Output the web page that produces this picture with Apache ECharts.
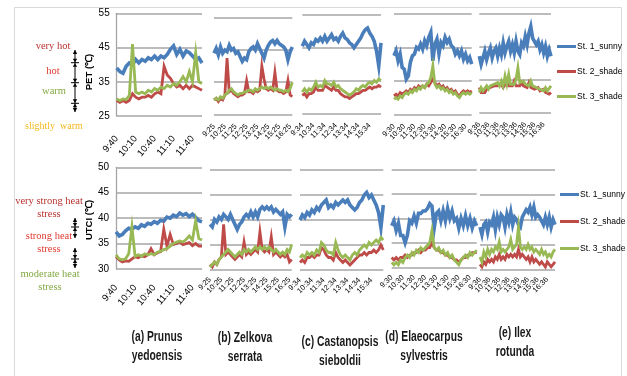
<!DOCTYPE html>
<html>
<head>
<meta charset="utf-8">
<script src="https://cdn.jsdelivr.net/npm/echarts@6/dist/echarts.min.js"></script>
<style>
  html, body { margin: 0; padding: 0; background: #fff; }
  #chart { width: 627px; height: 376px; }
</style>
</head>
<body>
<div id="chart"></div>
<script>
// ---- data ----
const seriesNames = ['St. 1_sunny', 'St. 2_shade', 'St. 3_shade'];
const panelStarts = ['9:40', '9:25', '9:34', '9:30', '9:36'];   // first time label of each panel
const sampleSteps = [5, 12, 12, 12, 12];                       // minutes between readings
const labelSteps = [30, 60, 60, 60, 60];                       // minutes between time labels
const captions = [
  ['(a) Prunus', 'yedoensis'],
  ['(b) Zelkova', 'serrata'],
  ['(c) Castanopsis', 'sieboldii'],
  ['(d) Elaeocarpus', 'sylvestris'],
  ['(e) Ilex', 'rotunda']
];
const petTicks = [25, 35, 45, 55];
const utciTicks = [30, 35, 40, 45, 50];

// PET (°C)
const petA1 = [39, 38, 37.5, 39.5, 40.5, 40, 41.5, 40.5, 41.5, 41, 42, 41.5, 42.5, 41.5, 42.5, 42, 43, 44.5, 45.5, 43, 44.5, 42.5, 44, 43.5, 42.5, 41.5, 42, 40.5];
const petA2 = [29.5, 29, 29.5, 29, 29.5, 31.5, 30.5, 30, 30.5, 30.5, 31, 30.5, 31.5, 32, 31.5, 39.5, 37, 36, 34.5, 33.5, 34, 33, 34, 33, 34, 33.5, 33, 32.5];
const petA3 = [30, 29.5, 30, 29.8, 31, 46, 32, 31.5, 32, 31.5, 32.5, 32, 33, 32.5, 33.5, 33, 34, 33.5, 34.5, 34, 35, 36.5, 35, 38, 35, 43.5, 35, 34.5];

const petB1 = [44, 45.5, 43.5, 46, 44, 45, 44.5, 46.5, 45, 45.5, 44, 44.5, 43, 41.5, 42.5, 42, 44.5, 45.5, 46, 45, 47, 45.5, 44, 42.5, 45, 46.5, 47.5, 48, 47, 48, 47, 46.5, 46, 45, 42, 44.5, 46];
const petB2 = [29.5, 30, 29, 30, 29.5, 31, 42.5, 32, 32.5, 31.5, 31, 30.5, 31, 31, 31.5, 35.5, 32, 32, 31.5, 32.5, 32, 32.5, 40, 36, 33, 32.5, 33, 32.5, 38, 32.5, 32, 32, 31.5, 32, 35.5, 31, 30.5];
const petB3 = [29.5, 30, 29.5, 30.5, 30, 31, 31.5, 32.5, 33, 32, 31.5, 31, 31.5, 31.5, 32, 32, 32.5, 32.5, 32, 33, 32.5, 33, 33.5, 33, 33.5, 33, 33.5, 33, 32.5, 33, 32.5, 32.5, 32, 32.5, 32, 33, 35];

const petC1 = [45.5, 47, 46, 45, 46.5, 46, 47.5, 47, 48, 47, 48.5, 47, 48, 49, 47.5, 48, 47, 48.5, 49.5, 48, 47.5, 46.5, 46, 45, 46, 47, 48, 49.5, 50.5, 51, 49.5, 48.5, 47, 44, 39.5, 46.5];
const petC2 = [30.5, 31, 30, 31, 31, 31.5, 33, 32, 32, 32, 33.5, 33, 32.5, 32, 33, 32, 32, 31, 30.5, 30, 30, 29.5, 30, 30.5, 31, 31, 31.5, 32, 32, 32.5, 33, 32.5, 33, 33, 33.5, 33];
const petC3 = [31.5, 32.5, 31.5, 32.5, 32, 33, 34.5, 33, 33.5, 33, 35, 34, 34, 33.5, 34.5, 33, 33.5, 32.5, 32, 31.5, 31, 30.5, 31, 31.5, 32.5, 32, 33, 33.5, 33, 34, 34.5, 34, 35, 34.5, 35.5, 35];

const petD1 = [42.5, 44, 41, 43, 39, 38.5, 35.5, 36.5, 40.5, 42.5, 43, 45, 44.5, 46, 44.5, 47, 45.5, 48, 49.5, 41, 46, 47.5, 43, 46.5, 45.5, 48, 46.5, 47.5, 45.5, 45, 43, 44, 42.5, 44, 41.5, 43, 41, 42, 40];
const petD2 = [30.5, 31, 30.5, 31.5, 31, 31.5, 32, 31.5, 32.5, 32, 33, 32.5, 33.5, 33, 33.5, 33, 34, 33.5, 34.5, 35.5, 34.5, 33.5, 34, 33, 33.5, 32.5, 33, 32, 32.5, 31.5, 32, 31, 30.5, 31.5, 32, 31.5, 32, 31.5, 32];
const petD3 = [29.5, 30, 29.5, 30.5, 30, 31, 31.5, 31, 32, 31.5, 32.5, 32, 33, 32.5, 33.5, 33, 34, 34.5, 36, 39.5, 34, 33, 33.5, 32.5, 33, 32, 32.5, 31.5, 32, 31, 31.5, 30.5, 30, 31, 31.5, 31, 31.5, 31, 31.5];

const petE1 = [42, 39.5, 41.5, 43.5, 41, 43, 44.5, 41.5, 43.5, 44.5, 42, 44.5, 42.5, 46, 43, 45, 46.5, 43.5, 45.5, 43, 46.5, 43.5, 42.5, 46, 45, 48, 45.5, 49, 51, 47.5, 48, 45.5, 46.5, 44, 45.5, 43, 45, 42, 44, 42];
const petE2 = [32.5, 31, 31.5, 31, 32, 31.5, 32.5, 32, 33, 32.5, 33, 32.5, 33.5, 32.5, 33, 34, 33, 33.5, 33, 34.5, 33, 33.5, 33, 34, 33, 33.5, 32.5, 34, 32.5, 33, 32, 31.5, 32.5, 31.5, 31, 32, 31, 31.5, 30.5, 31];
const petE3 = [31, 32.5, 31.5, 32, 33, 32, 33, 32.5, 33.5, 33, 34, 33, 34.5, 33, 36, 33.5, 36.5, 33.5, 34, 33.5, 35, 38.5, 34, 33.5, 34.5, 33.5, 34, 33, 34.5, 33, 33.5, 32.5, 33, 32, 32.5, 31.5, 32.5, 31.5, 32, 33];

// UTCI (°C)
const utciA1 = [37.3, 36.5, 36.8, 37.5, 38, 37.8, 38.3, 38, 38.7, 38.4, 39, 38.8, 39.3, 39, 39.6, 39.4, 40.2, 40, 40.6, 40.3, 41, 40.6, 40.9, 40.3, 40.8, 40.2, 39.5, 39.3];
const utciA2 = [32.4, 31.8, 31.4, 31.6, 31.5, 32, 32.4, 32.2, 32.6, 32.4, 32.8, 34, 32.8, 33.2, 33.4, 37.8, 34.5, 36.8, 34.8, 35, 35.4, 34.8, 35, 35.2, 34.6, 35, 34.5, 34.5];
const utciA3 = [32.8, 32, 31.8, 32, 33, 38.3, 32.5, 32.8, 32.5, 33, 32.8, 33, 32.8, 33.3, 33.5, 33.8, 34, 34.5, 35, 35.3, 35.5, 35.3, 35.8, 36.5, 35.7, 39.5, 36, 35.7];

const utciB1 = [39, 38.5, 40, 39.5, 40.5, 40, 41, 40.5, 40, 41, 40, 39, 38, 39, 39.5, 40.5, 41, 40.5, 41.5, 40.5, 41.5, 40.5, 42, 42.5, 42, 42.5, 42, 42.5, 41.5, 42, 41.5, 41, 41.5, 38.5, 41, 40.5, 41];
const utciB2 = [31, 30.5, 31.5, 31, 32, 32.5, 39, 33, 33.5, 33, 32.5, 32, 32.5, 33, 32.5, 35.5, 33, 33.5, 33, 33.5, 34, 33.5, 37.5, 34, 33.5, 34, 33.5, 36.5, 33, 33.5, 33, 32.5, 33, 32.5, 33, 31.5, 32];
const utciB3 = [30.5, 31, 31.5, 31, 32, 32.5, 33, 33.5, 34, 33.5, 33, 32.5, 33, 33.5, 33, 34, 33.5, 34, 33.5, 34, 34.5, 34, 34.5, 34, 34.5, 34, 34.5, 34, 33.5, 34, 33.5, 33, 33.5, 33, 34, 33.5, 35];

const utciC1 = [40, 41, 40.5, 41.5, 41, 42, 41.5, 42.5, 42, 43, 43.5, 44, 42.5, 43, 42.5, 43.5, 43, 43.5, 44, 43.5, 44, 43, 42.5, 42, 42.5, 43.5, 44, 45, 45.5, 44.5, 45, 44, 43, 41.5, 38.5, 43];
const utciC2 = [31.5, 32, 31.5, 32.5, 32.5, 33, 32.5, 33, 33, 34.5, 34, 33, 32.5, 32.5, 32, 33.5, 32.5, 32, 31.5, 32, 31.5, 31, 31.5, 32, 32.5, 33, 33, 33.5, 33, 33.5, 33.5, 34, 33.5, 34, 35, 34];
const utciC3 = [32.5, 33, 32.5, 33.5, 33, 33.5, 33, 34, 33.5, 35.5, 35, 34, 33.5, 33.5, 33, 35.5, 34, 33, 32.5, 33, 32.5, 32, 33, 33.5, 33, 34, 34.5, 35, 34.5, 35.5, 35, 35.5, 36, 35.5, 36.5, 36];

const utciD1 = [38.5, 39.5, 37.5, 39, 36.5, 36.5, 35, 36.5, 39.5, 39, 40.5, 39, 41, 41, 41.5, 41.5, 42, 43, 42.5, 38, 41, 41.5, 39.5, 41.5, 39.5, 42, 40, 41.5, 39.5, 40, 38, 40, 38.5, 40.5, 38.5, 40, 38, 39.5, 38.5];
const utciD2 = [32, 31.5, 32, 31.5, 32, 32, 32.5, 32, 32.5, 32.5, 33, 33, 33.5, 33, 33.5, 33.5, 34, 34, 35, 34, 33.5, 33.5, 33, 33, 32.5, 32.5, 32, 32, 31.5, 31.5, 31, 31.5, 32, 32, 32.5, 32.5, 33, 33, 33];
const utciD3 = [31, 30.5, 31, 30.5, 31.5, 31, 32, 32.5, 32, 33, 32.5, 33.5, 33, 34, 33.5, 34, 34.5, 35, 37.5, 34, 33.5, 34, 33, 33.5, 32.5, 33, 32, 32.5, 31.5, 31, 30.5, 31.5, 32, 32.5, 32, 33, 32.5, 33, 33.5];

const utciE1 = [38.5, 37, 39, 39.5, 37.5, 39.5, 39, 40.5, 38, 40.5, 39, 41, 40.5, 38.5, 41, 39.5, 41.5, 39, 40.5, 40, 39, 38.5, 40.5, 40.5, 42, 41.5, 42.5, 41, 42.5, 40.5, 41, 40.5, 40.5, 39, 40.5, 39, 40.5, 38.5, 40, 39];
const utciE2 = [31, 30.5, 31.5, 31, 32, 31.5, 32, 31.5, 32.5, 32, 33, 32, 32.5, 32, 33, 32.5, 33, 32.5, 33, 32.5, 34, 32.5, 33, 32.5, 32, 32.5, 31.5, 32.5, 31.5, 32, 31.5, 31, 31.5, 31, 30.5, 31.5, 31, 30.5, 31, 31.5];
const utciE3 = [32.5, 31.5, 33.5, 32.5, 34, 33, 34, 33.5, 34.5, 34, 35.5, 33.5, 34, 33.5, 34, 34.5, 36, 34, 34.5, 35, 38.5, 34.5, 34, 34.5, 34, 35, 34, 34.5, 33.5, 34, 33.5, 33, 34, 33, 33.5, 32.5, 33, 32.5, 33.5, 34];

const petPanels = [[petA1, petA2, petA3], [petB1, petB2, petB3], [petC1, petC2, petC3], [petD1, petD2, petD3], [petE1, petE2, petE3]];
const utciPanels = [[utciA1, utciA2, utciA3], [utciB1, utciB2, utciB3], [utciC1, utciC2, utciC3], [utciD1, utciD2, utciD3], [utciE1, utciE2, utciE3]];

// ---- layout ----
const SANS = "'Liberation Sans',Arial,sans-serif";
const SERIF = "'Liberation Serif','Times New Roman',serif";
const COLORS = ['#4a7ebb', '#be4b48', '#98b954'];
const WIDTHS = [3.6, 2.8, 2.8];
const GRID_LINE = '#a6a6a6';

// [left, top, right, bottom] of each plot area
const plotBoxes = [
  [116.7, 13.3, 202, 116], [214, 18, 292.3, 114.3], [302.3, 15, 381, 113.3], [394, 14, 471.7, 114.3], [479.3, 13.3, 551, 112.3],
  [116, 167.3, 202, 269], [210, 169.3, 291.7, 269.5], [300, 170, 383.3, 270], [391.7, 169.3, 476.7, 267.3], [480, 170, 555, 269.3]
];

function toMinutes(s) {
  const [h, m] = s.split(':').map(Number);
  return h * 60 + m;
}
function clock(m) {
  return Math.floor(m / 60) + ':' + String(m % 60).padStart(2, '0');
}

const grids = [], xAxes = [], yAxes = [], series = [];

[petPanels, utciPanels].forEach((rows, r) => {
  const ticks = r === 0 ? petTicks : utciTicks;
  rows.forEach((panel, p) => {
    const idx = r * 5 + p;
    const [l, t, rt, b] = plotBoxes[idx];
    grids.push({ left: l, top: t, width: rt - l, height: b - t, containLabel: false, outerBoundsMode: 'none' });
    const start = toMinutes(panelStarts[p]);
    const step = sampleSteps[p];
    const every = labelSteps[p] / step;
    const n = panel[0].length;
    const times = panel[0].map((_, i) => clock(start + i * step));
    const first = p === 0;
    xAxes.push({
      type: 'category', gridIndex: idx, data: times, boundaryGap: false,
      axisLine: { show: false }, axisTick: { show: false }, splitLine: { show: false },
      axisLabel: {
        interval: 0,
        rotate: first ? 50 : 45,
        margin: first ? (r === 0 ? 21 : 17) : (r === 0 ? 11 : 9),
        fontSize: first ? 9.5 : 7.5,
        fontFamily: SANS, color: '#000',
        formatter: (v, i) => (i % every === 0 && i < n - 1) ? v : ''
      }
    });
    yAxes.push({
      type: 'value', gridIndex: idx, min: ticks[0], max: ticks[ticks.length - 1], interval: ticks[1] - ticks[0],
      axisLine: { show: first, lineStyle: { color: GRID_LINE, width: 1.3 } },
      axisTick: { show: false },
      axisLabel: { show: first, margin: 7, fontSize: 10, fontFamily: SANS, color: '#000' },
      splitLine: { show: true, lineStyle: { color: GRID_LINE, width: 1.5 } }
    });
    panel.forEach((vals, s) => {
      series.push({
        name: seriesNames[s], type: 'line', xAxisIndex: idx, yAxisIndex: idx,
        symbol: 'none', smooth: false,
        lineStyle: { width: WIDTHS[s], color: COLORS[s], join: 'miter' },
        itemStyle: { color: COLORS[s] },
        data: vals
      });
    });
  });
});

// ---- side annotations ----
function label(text, x, y, color, font, sx, sy) {
  return {
    type: 'text', silent: true, x, y, scaleX: sx || 1, scaleY: sy || 1,
    style: { text, x: 0, y: 0, fill: color, font, textAlign: 'center', textVerticalAlign: 'middle' }
  };
}
function vlabel(text, x, y, font) {
  return {
    type: 'text', silent: true, x, y, rotation: Math.PI / 2,
    style: { text, x: 0, y: 0, fill: '#000', font, textAlign: 'center', textVerticalAlign: 'middle' }
  };
}

function arrows(x, y0, y1, bars) {
  const els = [];
  const tri = (pts) => els.push({ type: 'polygon', silent: true, shape: { points: pts }, style: { fill: '#000' } });
  els.push({ type: 'line', silent: true, shape: { x1: x, y1: y0, x2: x, y2: y1 }, style: { stroke: '#000', lineWidth: 1 } });
  tri([[x - 2.2, y0 + 4], [x + 2.2, y0 + 4], [x, y0]]);
  tri([[x - 2.2, y1 - 4], [x + 2.2, y1 - 4], [x, y1]]);
  bars.forEach(by => {
    els.push({ type: 'line', silent: true, shape: { x1: x - 4, y1: by, x2: x + 4, y2: by }, style: { stroke: '#000', lineWidth: 1 } });
    tri([[x - 2.2, by - 4], [x + 2.2, by - 4], [x, by - 0.5]]);
    tri([[x - 2.2, by + 4], [x + 2.2, by + 4], [x, by + 0.5]]);
  });
  return els;
}

const serifFont = '10.5px ' + SERIF;
const capFont = 'bold 12px ' + SANS;
const graphics = [
  { type: 'polyline', silent: true, shape: { points: [[14.5, 376], [14.5, 7.5], [621.5, 7.5], [621.5, 376]] }, style: { stroke: '#d9d9d9', lineWidth: 1, fill: null } },

  label('very hot', 53, 46, '#b8312f', serifFont),
  label('hot', 53, 71, '#e0392f', serifFont),
  label('warm', 54, 91, '#84a844', serifFont),
  label('slightly  warm', 54, 126, '#f4b81c', '10px ' + SERIF),

  label('very strong heat', 49, 201, '#b8312f', serifFont),
  label('stress', 49, 214, '#b8312f', serifFont),
  label('strong heat', 49, 236, '#e0392f', serifFont),
  label('stress', 49, 249, '#e0392f', serifFont),
  label('moderate heat', 50, 274, '#84a844', serifFont),
  label('stress', 50, 287, '#84a844', serifFont),

  vlabel('PET (℃)', 89, 72, 'bold 9.5px ' + SANS),
  vlabel('UTCI (℃)', 89, 220, 'bold 9.5px ' + SANS)
].concat(
  arrows(75, 50, 112, [62.7, 82.7, 103.3]),
  arrows(75, 218, 238, [227]),
  arrows(75, 248, 268, [259])
);

const capCentres = [[157, 337], [245, 338], [340, 342], [424, 337], [515, 333]];
captions.forEach((c, i) => {
  const [cx, cy] = capCentres[i];
  graphics.push(label(c[0], cx, cy, '#1a1a1a', capFont, 0.86, 1.2));
  graphics.push(label(c[1], cx, cy + 19.5, '#1a1a1a', capFont, 0.86, 1.2));
});

const legendBase = {
  orient: 'vertical', icon: 'rect', itemWidth: 19, itemHeight: 3,
  data: seriesNames, selectedMode: false,
  textStyle: { fontFamily: SANS, fontSize: 8.5, color: '#000', padding: [0, 0, 0, -4] }
};

const chart = echarts.init(document.getElementById('chart'));
chart.setOption({
  animation: false,
  backgroundColor: '#fff',
  grid: grids,
  xAxis: xAxes,
  yAxis: yAxes,
  series: series,
  legend: [
    Object.assign({}, legendBase, { left: 552, top: 37, itemGap: 16 }),
    Object.assign({}, legendBase, { left: 555, top: 185, itemGap: 18 })
  ],
  graphic: { elements: graphics }
});
</script>
</body>
</html>
